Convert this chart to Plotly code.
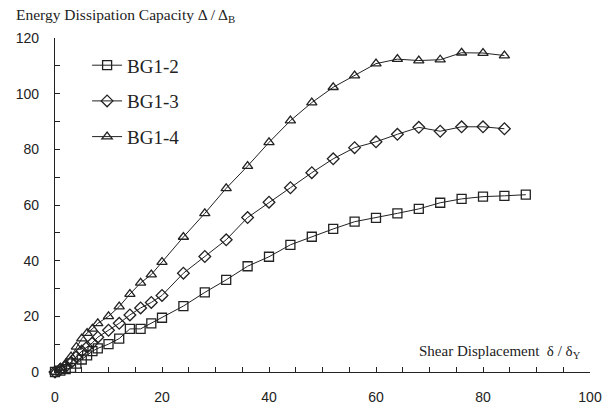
import plotly.graph_objects as go

x_bg12 = [0, 1, 2, 3, 4, 5, 6, 7, 8, 10, 12, 14, 16, 18, 20, 24, 28, 32, 36, 40, 44, 48, 52, 56, 60, 64, 68, 72, 76, 80, 84, 88]
y_bg12 = [0, 0.5, 1, 1.5, 3, 4.5, 6, 7.5, 8.5, 10, 12, 15.5, 15.5, 17.5, 19.5, 23.7, 28.6, 33.1, 38, 41.4, 45.7, 48.6, 51.4, 54, 55.4, 57, 58.6, 60.8, 62.2, 63, 63.3, 63.7]

x_bg13 = [0, 1, 2, 3, 4, 5, 6, 7, 8, 10, 12, 14, 16, 18, 20, 24, 28, 32, 36, 40, 44, 48, 52, 56, 60, 64, 68, 72, 76, 80, 84]
y_bg13 = [0, 1, 2, 3.5, 5.5, 7.5, 9, 10.5, 12.5, 15, 17.5, 20.5, 23, 25, 27.5, 35.5, 41.5, 47.5, 55.5, 61, 66.2, 71.6, 76.6, 80.6, 82.7, 85.4, 87.9, 86.5, 88.1, 88.1, 87.4]

x_bg14 = [0, 1, 2, 3, 4, 5, 6, 7, 8, 10, 12, 14, 16, 18, 20, 24, 28, 32, 36, 40, 44, 48, 52, 56, 60, 64, 68, 72, 76, 80, 84]
y_bg14 = [0, 1.5, 3, 5.5, 9, 12, 14, 15.5, 17.5, 20, 23.5, 28, 32, 35, 39.5, 48.5, 57, 66, 74, 82.5, 90.3, 96.8, 102.3, 106.5, 110.8, 112.4, 111.9, 112.2, 114.7, 114.6, 113.7]

names = ["BG1-2", "BG1-3", "BG1-4"]
symbols = ["square-open", "diamond-open", "triangle-up-open"]

fig = go.Figure()
for i, (xs, ys) in enumerate([(x_bg12, y_bg12), (x_bg13, y_bg13), (x_bg14, y_bg14)]):
    fig.add_trace(go.Scatter(
        x=xs, y=ys, mode="lines+markers", name=names[i], legendgroup=names[i],
        line=dict(color="#222", width=1),
        marker=dict(symbol=symbols[i], size=9, color="#222", line=dict(width=1.3, color="#222")),
        cliponaxis=False,
    ))

serif = "Liberation Serif"
tickfont = dict(family="Liberation Sans", size=14, color="#222")
fig.update_layout(
    width=609, height=409,
    margin=dict(l=55, r=19, t=38, b=37, autoexpand=False),
    paper_bgcolor="white", plot_bgcolor="white",
    showlegend=True,
    legend=dict(x=0.06, y=0.975, xanchor="left", yanchor="top",
                font=dict(family=serif, size=19, color="#222"),
                bgcolor="rgba(0,0,0,0)", tracegroupgap=8, traceorder="grouped",
                itemwidth=30),
    xaxis=dict(range=[0, 100], dtick=20, tick0=0, ticks="inside", ticklen=5,
               tickcolor="#222", showline=True, linecolor="#222", linewidth=1.3,
               showgrid=False, zeroline=False, automargin=False,
               tickfont=tickfont, ticklabelstandoff=12,
               minor=dict(dtick=5, ticks="inside", ticklen=5, tickcolor="#222")),
    yaxis=dict(range=[0, 120], dtick=20, tick0=0, ticks="inside", ticklen=5,
               tickcolor="#222", showline=True, linecolor="#222", linewidth=1.3,
               showgrid=False, zeroline=False, automargin=False,
               tickfont=tickfont, ticklabelstandoff=12,
               minor=dict(dtick=10, ticks="inside", ticklen=5, tickcolor="#222")),
    annotations=[
        dict(text="Energy Dissipation Capacity Δ / Δ<sub>B</sub>", xref="paper", yref="paper",
             x=-0.077, y=1.066, xanchor="left", yanchor="middle", showarrow=False,
             font=dict(family=serif, size=15.5, color="#222")),
        dict(text="Shear Displacement  δ / δ<sub>Y</sub>", xref="paper", yref="paper",
             x=0.987, y=0.06, xanchor="right", yanchor="middle", showarrow=False,
             font=dict(family=serif, size=15, color="#222")),
    ],
)

fig.write_html("out.html")
